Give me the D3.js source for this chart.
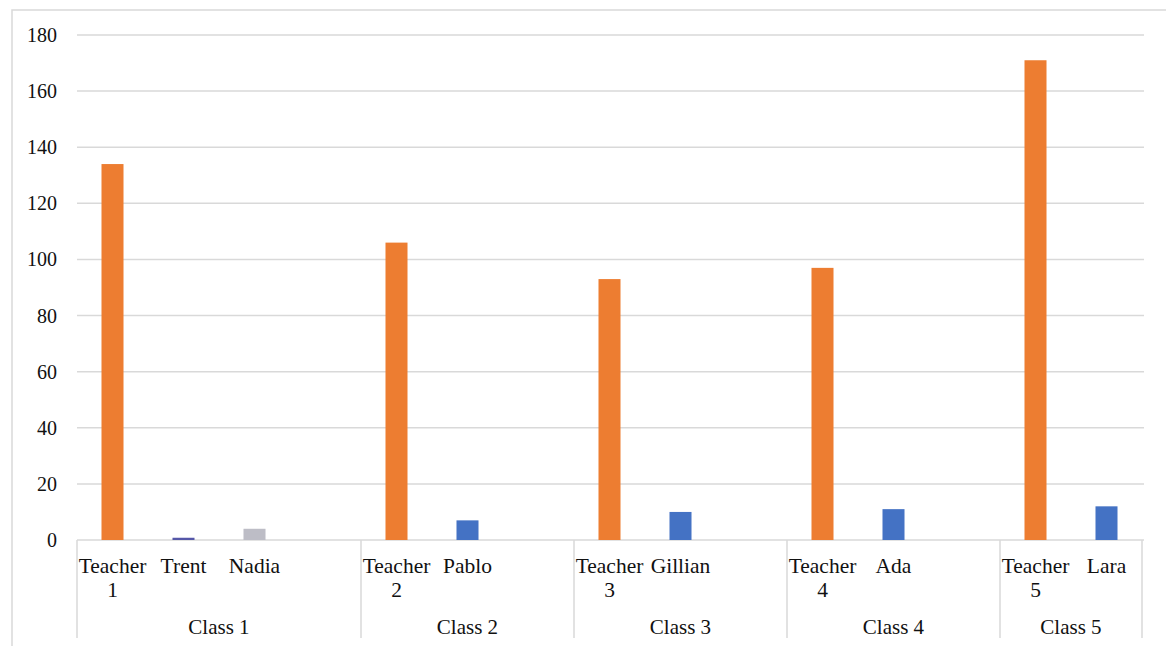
<!DOCTYPE html>
<html>
<head>
<meta charset="utf-8">
<script src="https://cdn.jsdelivr.net/npm/d3@7"></script>
<style>
  html, body { margin: 0; padding: 0; background: #fff; }
  svg { display: block; }
  text { font-family: "Liberation Serif", "Times New Roman", "DejaVu Serif", serif; fill: #111; }
</style>
</head>
<body>
<svg id="chart" width="1166" height="646"></svg>
<script>
// ---- data ----
const categories = ["Teacher 1", "Trent", "Nadia", "", "Teacher 2", "Pablo", "", "Teacher 3", "Gillian", "", "Teacher 4", "Ada", "", "Teacher 5", "Lara"];
const classOf    = ["Class 1", "Class 1", "Class 1", "Class 1", "Class 2", "Class 2", "Class 2", "Class 3", "Class 3", "Class 3", "Class 4", "Class 4", "Class 4", "Class 5", "Class 5"];
const values     = [134, 0.8, 4, null, 106, 7, null, 93, 10, null, 97, 11, null, 171, 12];
const seriesOf   = ["teacher", "student", "other", "", "teacher", "student", "", "teacher", "student", "", "teacher", "student", "", "teacher", "student"];
const classes    = ["Class 1", "Class 2", "Class 3", "Class 4", "Class 5"];
const yTicks     = [0, 20, 40, 60, 80, 100, 120, 140, 160, 180];

const colors = { teacher: "#ED7D31", student: "#4472C4", other: "#BDBDC6" };
const trentColor = "#5557A8";

(function () {
const svg = d3.select("#chart");
const mLeft = 77, mRight = 1142, mTop = 35, mBottom = 540;
const fontFam = '"Liberation Serif", "Times New Roman", "DejaVu Serif", serif';

// outer border (chart frame)
svg.append("rect").attr("x", 12).attr("y", 10).attr("width", 1300).attr("height", 800)
  .attr("fill", "none").attr("stroke", "#d9d9d9").attr("stroke-width", 1.5);

const idx = categories.map((d, i) => i);
const x = d3.scaleBand().domain(idx).range([mLeft, mRight]).paddingInner(0).paddingOuter(0);
const y = d3.scaleLinear().domain([0, 180]).range([mBottom, mTop]);

// gridlines
svg.append("g").selectAll("line").data(yTicks).join("line")
  .attr("x1", mLeft).attr("x2", mRight + 2)
  .attr("y1", d => y(d)).attr("y2", d => y(d))
  .attr("stroke", "#d9d9d9").attr("stroke-width", 1.5);

// y tick labels
svg.append("g").selectAll("text").data(yTicks).join("text")
  .attr("x", 57).attr("y", d => y(d)).attr("dy", "0.35em")
  .attr("text-anchor", "end").attr("font-size", 20).attr("font-family", fontFam)
  .text(d => d);

// bars
const barW = x.bandwidth() * 0.31;
svg.append("g").selectAll("rect").data(idx.filter(i => values[i] != null)).join("rect")
  .attr("x", i => x(i) + (x.bandwidth() - barW) / 2)
  .attr("width", barW)
  .attr("y", i => y(values[i]))
  .attr("height", i => y(0) - y(values[i]))
  .attr("fill", i => categories[i] === "Trent" ? trentColor : colors[seriesOf[i]]);

// category labels (wrap "Teacher N")
const lab = svg.append("g");
idx.forEach(i => {
  const name = categories[i];
  if (!name) return;
  const cx = x(i) + x.bandwidth() / 2;
  const parts = name.startsWith("Teacher ") ? ["Teacher", name.slice(8)] : [name];
  parts.forEach((p, k) => {
    lab.append("text").attr("x", cx).attr("y", 573 + k * 24)
      .attr("text-anchor", "middle").attr("font-size", 21.5).attr("font-family", fontFam).text(p);
  });
});

// class groups: dividers and labels
const spans = classes.map(c => {
  const ids = idx.filter(i => classOf[i] === c);
  return { c, x0: x(ids[0]), x1: x(ids[ids.length - 1]) + x.bandwidth() };
});
const bounds = [spans[0].x0].concat(spans.map(s => s.x1));
svg.append("g").selectAll("line").data(bounds).join("line")
  .attr("x1", d => d).attr("x2", d => d)
  .attr("y1", mBottom).attr("y2", 638)
  .attr("stroke", "#d9d9d9").attr("stroke-width", 1.5);

svg.append("g").selectAll("text").data(spans).join("text")
  .attr("x", d => (d.x0 + d.x1) / 2).attr("y", 634)
  .attr("text-anchor", "middle").attr("font-size", 21).attr("font-family", fontFam)
  .text(d => d.c);
})();
</script>
</body>
</html>
